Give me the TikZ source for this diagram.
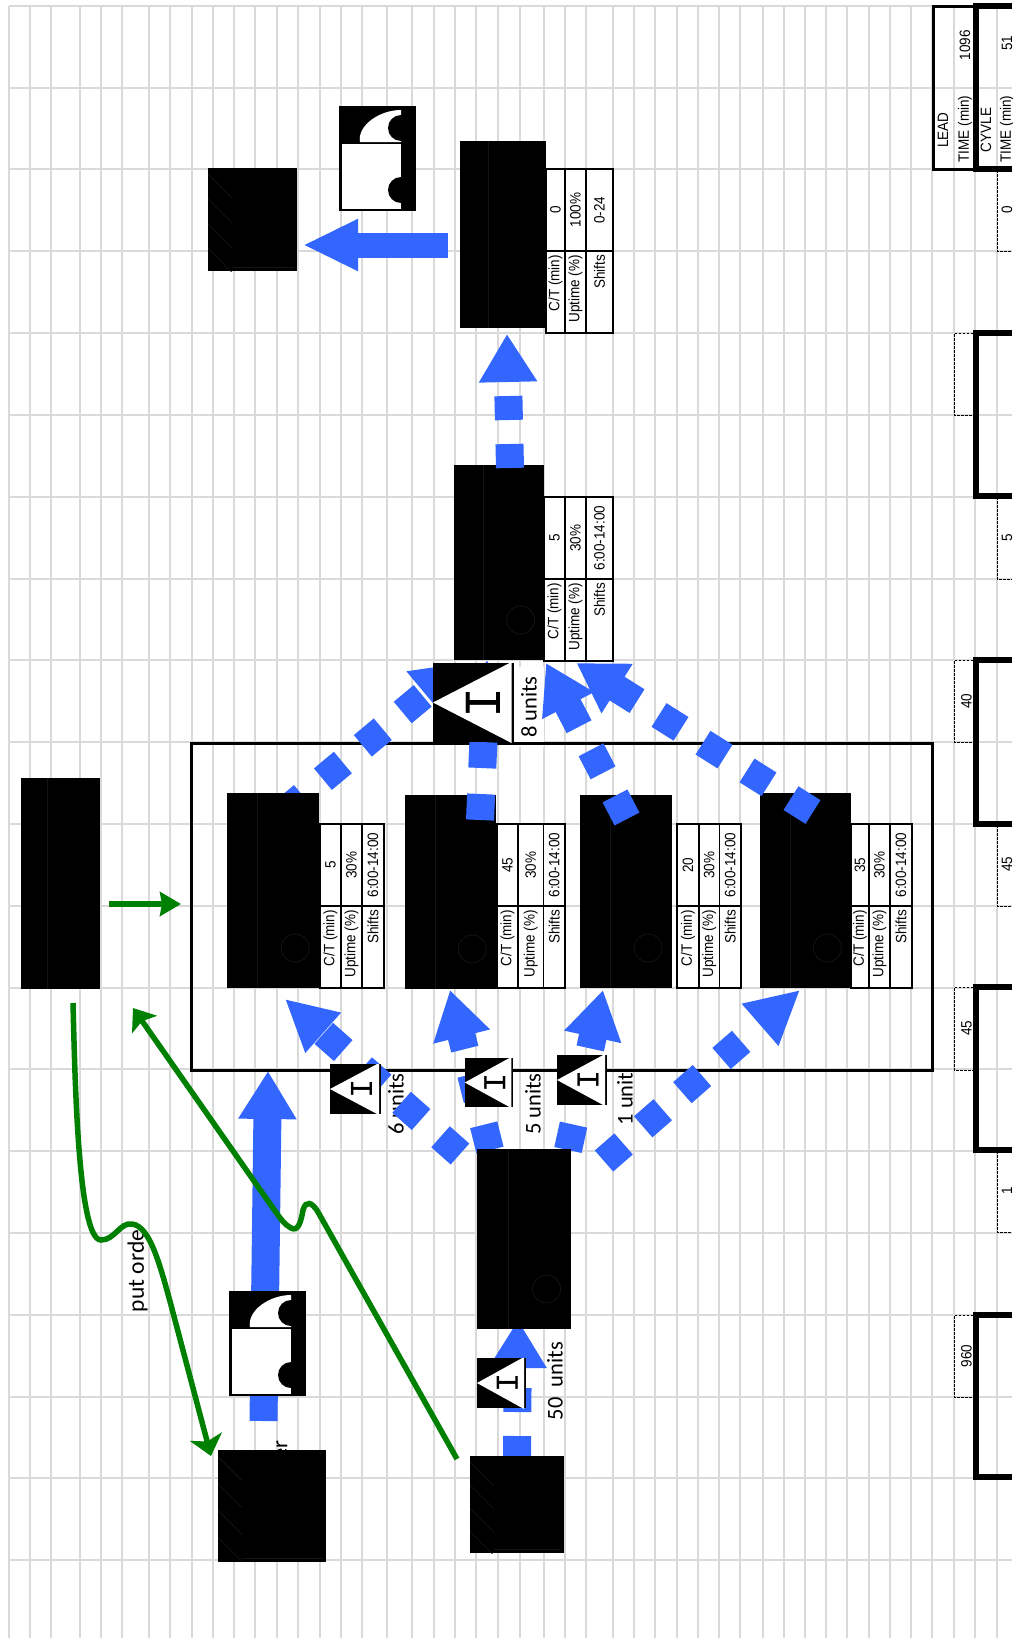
\documentclass[tikz,border=0pt]{standalone}
\usepackage{fontspec}
\setmainfont{Carlito}
\newfontfamily\tablefont[FakeStretch=0.9]{Liberation Sans}
\newfontfamily\markfont{Liberation Mono}
\usetikzlibrary{arrows.meta,calc}
\definecolor{flowblue}{HTML}{3366FF}
\definecolor{signalgreen}{HTML}{008000}
\definecolor{gridgrey}{HTML}{D9D9D9}
\definecolor{dimline}{HTML}{141414}

\newcommand{\dividerline}{\draw[dimline,line width=0.8pt]
  ($(path picture bounding box.north west)!0.33!(path picture bounding box.north east)$) --
  ($(path picture bounding box.south west)!0.33!(path picture bounding box.south east)$);}

\tikzset{
  blackbox/.style={fill=black,inner sep=0pt,outer sep=0pt},
  procbox/.style={blackbox,path picture={\dividerline}},
  opbox/.style={blackbox,path picture={\dividerline
    \draw[dimline,line width=0.8pt]
      ($(path picture bounding box.south west)!0.74!(path picture bounding box.south east)+(0,-40)$) circle[radius=14];}},
  plantbox/.style={blackbox,path picture={
    \foreach \t in {0.06,0.3,0.54,0.78}
      \draw[dimline,line width=0.8pt] ($(path picture bounding box.north west)!\t!(path picture bounding box.south west)$) -- ++(24,24);
    \draw[dimline,line width=0.8pt] ($(path picture bounding box.south west)+(24,-4)$) -- ($(path picture bounding box.south east)+(-3,-4)$);}},
  invbox/.style={blackbox,path picture={\fill[white]
    (path picture bounding box.west) -- ([shift={(-2,-1)}]path picture bounding box.north east) --
    ([shift={(-2,1)}]path picture bounding box.south east) -- cycle;}},
  invmark/.style={rotate=90,inner sep=0pt,text=black},
  gridline/.style={gridgrey,line width=1.6pt},
  tablecell/.style={draw=black,fill=white,line width=1.6pt},
  tablerule/.style={black,line width=1.6pt},
  celllabel/.style={rotate=90,anchor=east,inner sep=0pt,font=\tablefont\fontsize{15}{15}\selectfont},
  cellvalue/.style={rotate=90,inner sep=0pt,font=\tablefont\fontsize{15}{15}\selectfont},
  unitlabel/.style={rotate=90,inner sep=0pt,font=\fontsize{22.5}{22.5}\selectfont},
  pushflow/.style={flowblue,line width=28pt,-{Triangle[length=48pt,width=55pt]}},
  dashflow/.style={pushflow,dash pattern=on 26pt off 26pt},
  shortdash/.style={pushflow,dash pattern=on 24pt off 24pt},
  signal/.style={signalgreen,line width=5.5pt,-{Stealth[length=20pt,width=33pt,inset=5pt]}},
  timeline/.style={black,line width=5.5pt},
  waitbox/.style={black,line width=0.8pt,dash pattern=on 2.5pt off 1.5pt},
  truck/.pic={
    \fill[black] (0,0) rectangle (77,105);
    \fill[white] (3,38) rectangle (62,103);
    \fill[white] (21,36) .. controls (18,20) and (40,4) .. (62,4) -- (62,36) -- cycle;
    \fill[black] (62,22) circle[radius=13];
    \fill[black] (62,84) circle[radius=13];
  }
}

% name, x0, x1, x2, x3, top, c/t, uptime, shifts
\newcommand{\datatable}[9]{
  \draw[tablecell] (#2,#6) rectangle (#5,#6+164);
  \draw[tablerule] (#3,#6) -- (#3,#6+164) (#4,#6) -- (#4,#6+164) (#2,#6+82) -- (#5,#6+82);
  \node[celllabel] (#1a) at ({(#2+#3)/2},#6+86) {C/T (min)};
  \node[celllabel] (#1b) at ({(#3+#4)/2},#6+86) {Uptime (\%)};
  \node[celllabel] (#1c) at ({(#4+#5)/2},#6+86) {Shifts};
  \node[cellvalue] (#1d) at ({(#2+#3)/2},#6+41) {#7};
  \node[cellvalue] (#1e) at ({(#3+#4)/2},#6+41) {#8};
  \node[cellvalue] (#1f) at ({(#4+#5)/2},#6+41) {#9};
}
% name, x, y, width, height, mark size
\newcommand{\invtriangle}[6]{
  \node[invbox,minimum width=#4,minimum height=#5] (#1) at (#2,#3) {};
  \node[invmark,font=\markfont\fontsize{#6}{#6}\selectfont] (#1m) at ([xshift=0.12*#4]#1) {I};
}

\begin{document}
\begin{tikzpicture}[x=1pt,y=-1pt]
\clip (0,0) rectangle (1012,1638);
\fill[white] (0,0) rectangle (1012,1638);

% sheet
\foreach \gx in {9,30,51,80,101,122,149,170,192,213,234,255,277,298,320,341,362,387,412,434,
  455,476,498,520,544,565,586,613,634,655,677,698,719,740,763,784,805,826,847,869,890,911,
  932,954,975,997}
  \draw[gridline] (\gx,6) -- (\gx,1638);
\foreach \gy in {6,88,169,251,333,415,497,579,660,742,824,906,988,1069,1151,1233,1315,1397,1478,1560}
  \draw[gridline] (9,\gy) -- (1012,\gy);

% labels under the flows
\node[unitlabel,fill=white,minimum width=80,minimum height=30] (lab8) at (529,707) {8 units};
\node[unitlabel] (lab6) at (396,1104) {6 units};
\node[unitlabel] (lab5) at (533,1104) {5 units};
\node[unitlabel] (lab1) at (625,1099) {1 unit};
\node[unitlabel] (lab50) at (555,1381) {50\ \ units};
\node[unitlabel,font=\fontsize{23.5}{23.5}\selectfont] (labput) at (137.5,1271) {put orde};
\node[unitlabel,anchor=east] (laber) at (282,1440) {er};

\node[draw=black,line width=3pt,inner sep=0pt,minimum width=741,minimum height=327] (plant) at (561.5,906.5) {};

% free ends of the flows
\coordinate (a0) at (460,1154);
\coordinate (a1) at (285,999);
\coordinate (b0) at (490,1150);
\coordinate (b1) at (450,990);
\coordinate (c0) at (568,1150);
\coordinate (c1) at (603,990);
\coordinate (d0) at (604,1161);
\coordinate (d1) at (800,990);
\coordinate (e0) at (283,812.5);
\coordinate (e1) at (462,663);
\coordinate (f0) at (480,820);
\coordinate (f1) at (487,660);
\coordinate (g0) at (627,819);
\coordinate (g1) at (546,663);
\coordinate (h0) at (813,812);
\coordinate (h1) at (576.5,663);
\coordinate (i0) at (510,468);
\coordinate (i1) at (507,334);
\coordinate (j0) at (448,245);
\coordinate (j1) at (303,245);
\coordinate (k0) at (263.5,1421);
\coordinate (k1) at (268,1071);
\coordinate (m0) at (517,1460);
\coordinate (m1) at (518,1320);

\draw[dashflow,-{Triangle[length=51pt,width=50pt]}] (a0) -- (a1);
\draw[dashflow] (b0) -- (b1);
\draw[dashflow] (c0) -- (c1);
\draw[dashflow,-{Triangle[length=53pt,width=52pt]}] (d0) -- (d1);
\draw[dashflow] (e0) -- (e1);
\draw[shortdash] (m0) -- (m1);
\draw[pushflow,line width=28pt] (k0) -- (k1);
\draw[flowblue,line width=25pt,-{Triangle[length=55pt,width=48pt]}] (j0) -- (j1);

% boxes
\node[opbox,minimum width=92,minimum height=195] (work1) at (273,890.5) {};
\node[opbox,minimum width=91,minimum height=194] (work2) at (450.5,892) {};
\node[opbox,minimum width=92,minimum height=193] (work3) at (626,891.5) {};
\node[opbox,minimum width=91,minimum height=195] (work4) at (805.5,890.5) {};
\node[procbox,minimum width=86,minimum height=187] (ship) at (503,234.5) {};
\node[opbox,minimum width=90,minimum height=195] (finish) at (499,562.5) {};
\node[procbox,minimum width=79,minimum height=211] (ctrl) at (60.5,883.5) {};
\node[opbox,minimum width=94,minimum height=180] (prep) at (524,1239) {};
\node[plantbox,minimum width=89,minimum height=103] (cust) at (252.5,219.5) {};
\node[plantbox,minimum width=94,minimum height=97] (raw) at (517,1504.5) {};
\node[plantbox,minimum width=108,minimum height=112] (supp) at (272,1506) {};

\draw[dashflow] (f0) -- (f1);
\draw[dashflow] (g0) -- (g1);
\draw[dashflow] (h0) -- (h1);
\draw[shortdash] (i0) -- (i1);

\datatable{tab1}{320}{341}{362}{384}{824}{5}{30\%}{6:00-14:00}
\datatable{tab2}{497}{518}{543.5}{565}{824}{45}{30\%}{6:00-14:00}
\datatable{tab3}{677}{699}{719.5}{741}{824}{20}{30\%}{6:00-14:00}
\datatable{tab4}{851}{869}{890}{912}{824}{35}{30\%}{6:00-14:00}
\datatable{tab5}{544}{565}{586}{613}{497}{5}{30\%}{6:00-14:00}
\datatable{tab6}{546}{565}{586}{613}{169}{0}{100\%}{0-24}

\pic at (339,106) {truck};
\pic at (229,1291) {truck};

\invtriangle{inv6}{355.5}{1089}{51}{50}{32}
\invtriangle{inv5}{489}{1082.5}{48.5}{49}{32}
\invtriangle{inv1}{582}{1080}{50}{50}{32}
\invtriangle{inv50}{501.5}{1383}{49}{50}{32}
\invtriangle{inv8}{473.25}{702.5}{80.5}{79}{52}

% signals
\coordinate (s0) at (109,904);
\coordinate (s1) at (181,904);
\coordinate (t0) at (73,1003);
\coordinate (t1) at (211,1456);
\coordinate (u0) at (457,1459);
\coordinate (u1) at (133,1008);
\draw[signal,-{Stealth[length=21pt,width=24pt,inset=2pt]}] (s0) -- (s1);
\draw[signal] (t0) .. controls (75,1080) and (78,1240) .. (101,1240)
  .. controls (115,1240) and (120,1222) .. (132,1224)
  .. controls (150,1226) and (160,1265) .. (171,1305) -- (t1);
\draw[signal,-{Stealth[length=20pt,width=30pt,inset=4pt]}] (u0) -- (318,1212) .. controls (312,1202) and (306,1200) .. (303,1210)
  .. controls (301,1222) and (298,1232) .. (291,1228)
  .. controls (285,1225) and (280,1218) .. (275,1211) -- (u1);

% time line
\draw[tablerule,line width=3pt] (976,6) -- (933,6) -- (933,169) -- (976,169);
\draw[timeline] (1012,6) -- (976,6) -- (976,169) -- (1012,169);
\foreach \ya/\yb in {333/496,660/824,987/1150,1315/1477}
  \draw[timeline] (1012,\ya) -- (976,\ya) -- (976,\yb) -- (1012,\yb);
\foreach \ya/\yb in {333/415,660/742,987/1070,1315/1397}
  \draw[waitbox] (973,\ya) -- (954,\ya) -- (954,\yb) -- (973,\yb);
\foreach \ya/\yb in {169/251,496/579,824/906,1150/1232}
  \draw[waitbox] (1012,\ya) -- (997,\ya) -- (997,\yb) -- (1012,\yb);
\foreach \yt/\txt in {701/40,1028/45,1356/960}
  \node[cellvalue] (wait\txt) at (966.5,\yt) {\txt};
\foreach \yt/\txt in {210/0,538/5,864/45,1191/1}
  \node[cellvalue] (cyc\yt) at (1007,\yt) {\txt};
\node[cellvalue] (leadtop) at (943,130) {LEAD};
\node[cellvalue] (leadtime) at (965,129) {TIME (min)};
\node[cellvalue] (leadval) at (965,45) {1096};
\node[cellvalue] (cycletop) at (986,130) {CYVLE};
\node[cellvalue] (cycletime) at (1007,129) {TIME (min)};
\node[cellvalue] (cycleval) at (1007,43) {51};
\end{tikzpicture}
\end{document}
